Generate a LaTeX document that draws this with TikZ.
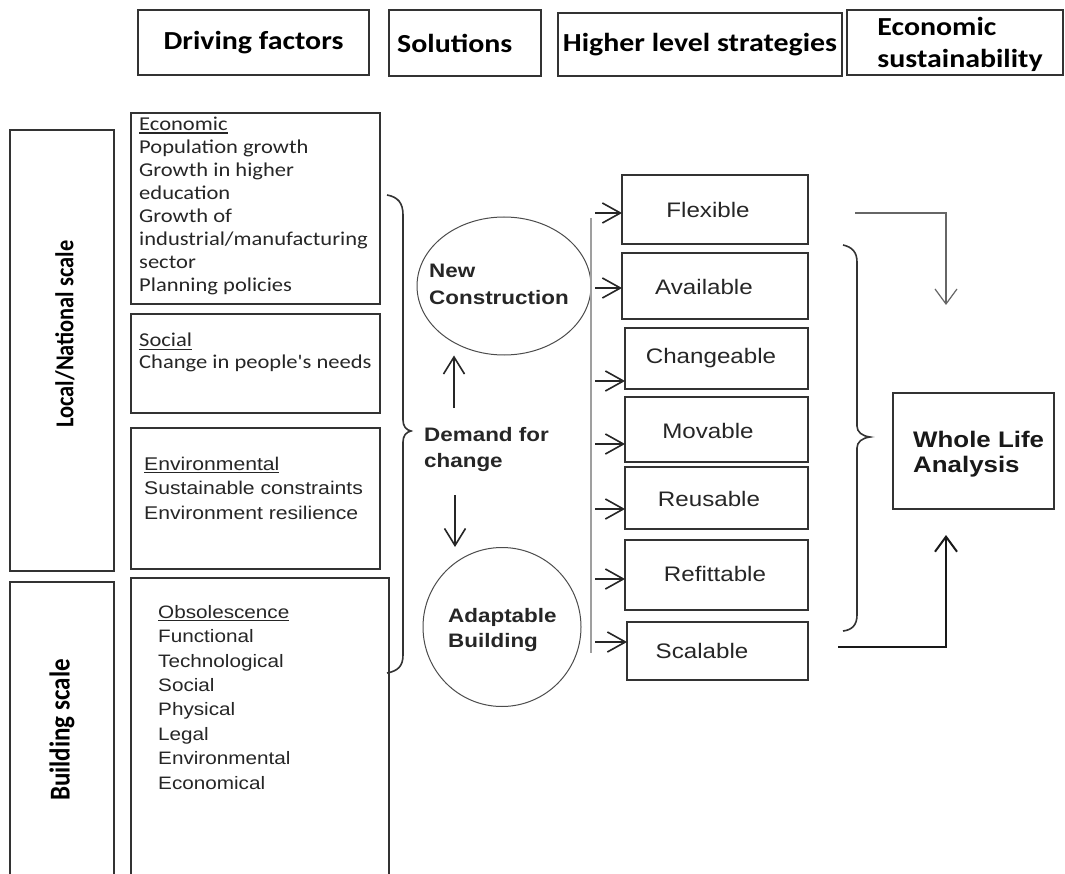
\documentclass[tikz,border=0pt]{standalone}
\usepackage{fontspec}
\newfontfamily\calfont[FakeStretch=1.15]{Carlito}
\newfontfamily\calplain{Carlito}
\newfontfamily\arfont[FakeStretch=1.15]{Liberation Sans}
\usetikzlibrary{arrows.meta,calc,shapes.geometric}
\newcommand\myul[1]{\setbox0\hbox{#1}\rlap{\rule[-2.6pt]{\wd0}{1.1pt}}\box0}
\newcommand\mkbox[6][]{\node[box,minimum width={#5-#3},minimum height={#6-#4},#1] (#2) at ({(#3+#5)/2},{(#4+#6)/2}) {};}
\begin{document}
\begin{tikzpicture}[x=1pt,y=-1pt,
  box/.style={draw=black!80, line width=1.6pt, inner sep=0pt, outer sep=0pt},
  hdrfont/.style={font=\calfont\bfseries\fontsize{26}{32}\selectfont},
  caltxt/.style={anchor=base west, align=left, inner sep=0pt, text=black!85, font=\calfont\fontsize{19.6}{23}\selectfont},
  artxt/.style={anchor=base west, align=left, inner sep=0pt, text=black!85, font=\arfont\fontsize{18.4}{24.4}\selectfont},
  boldtxt/.style={anchor=base west, align=left, inner sep=0pt, text=black!85, font=\arfont\bfseries\fontsize{19.5}{25}\selectfont},
  strat/.style={inner sep=0pt, text=black!85, font=\arfont\fontsize{21}{25}\selectfont},
  vlabel/.style={inner sep=0pt, xscale=1.15, rotate=90},
  oval/.style={draw=black!70, line width=1pt, ellipse, inner sep=0pt},
  sarr/.style={draw=black!85, line width=1.6pt, -{Straight Barb[length=18pt,width=20pt,line width=1.6pt]}},
  varr/.style={draw=black!85, line width=1.6pt, -{Straight Barb[length=17pt,width=21pt,line width=1.6pt]}},
  brace/.style={draw=black!80, line width=1.6pt}
]
\useasboundingbox (0,0) rectangle (1065,874);
\fill[white] (0,0) rectangle (1065,874);
\begin{scope}
\clip (0,0) rectangle (1065,874);

% header boxes
\mkbox{hdf}{138}{10}{369}{75}
\mkbox{hsol}{389}{10}{541}{76}
\mkbox{hhls}{558}{13}{842}{76}
\mkbox{hecs}{847}{10}{1063}{75}
\node[hdrfont] (thdf) at (hdf.center) {Driving factors};
\node[hdrfont, anchor=west, inner sep=0pt] (thsol) at (397,43) {Solutions};
\node[hdrfont] (thhls) at (hhls.center) {Higher level strategies};
\node[hdrfont, align=left, inner sep=0pt] (thecs) at (960,44) {Economic\\sustainability};

% scale boxes
\mkbox{lns}{10}{130}{114}{571}
\mkbox{bsc}{10}{582}{114}{890}
\node[vlabel, font=\calplain\bfseries\fontsize{22.4}{24}\selectfont] (tlns) at (65,334) {Local/National scale};
\node[vlabel, font=\calplain\bfseries\fontsize{25}{27}\selectfont] (tbsc) at (62,730) {Building scale};

% driving factor boxes (text anchored at the baseline of its last line)
\mkbox{eco}{131}{113}{380}{304}
\mkbox{soc}{131}{314}{380}{413}
\mkbox{env}{131}{428}{380}{569}
\mkbox{obs}{131}{578}{389}{890}
\node[caltxt] (teco) at (139,292) {\myul{Economic}\\Population growth\\Growth in higher\\education\\Growth of\\industrial/manufacturing\\sector\\Planning policies};
\node[caltxt, font=\calfont\fontsize{19.6}{22}\selectfont] (tsoc) at (139,369) {\myul{Social}\\Change in people's needs};
\node[artxt, font=\arfont\fontsize{18.4}{24.5}\selectfont] (tenv) at (144,519) {\myul{Environmental}\\Sustainable constraints\\Environment resilience};
\node[artxt, font=\arfont\fontsize{18}{24.4}\selectfont] (tobs) at (158,789) {\myul{Obsolescence}\\Functional\\Technological\\Social\\Physical\\Legal\\Environmental\\Economical};

% brace 1
\draw[brace] (387,195) .. controls (398,197) and (403,203) .. (403,215) -- (403,420)
  .. controls (403,426) and (406,430) .. (411,431)
  .. controls (406,432) and (403,436) .. (403,442) -- (403,655)
  .. controls (403,666) and (398,671) .. (387,673);

% solutions
\node[oval, minimum width=174, minimum height=138] (newc) at (504,286) {};
\node[oval, minimum width=158, minimum height=159] (adapt) at (502,627) {};
\node[boldtxt, font=\arfont\bfseries\fontsize{19.5}{27}\selectfont] (tnewc) at (429,305) {New\\Construction};
\node[boldtxt] (tadapt) at (448,647) {Adaptable\\Building};
\node[boldtxt, font=\arfont\bfseries\fontsize{19.5}{25.5}\selectfont] (tdem) at (424,467) {Demand for\\change};
\coordinate (upst) at (454,408);
\coordinate (dnst) at (455,495);
\draw[varr] (upst) -- (upst |- newc.south);
\draw[varr] (dnst) -- (dnst |- adapt.north);

% vertical line
\coordinate (vtop) at (591,218);
\coordinate (vbot) at (591,653);
\draw[gray!75, line width=2.6pt] (vtop) -- (vbot);

% strategy boxes
\mkbox{flex}{622}{175}{808}{244}
\mkbox{avail}{622}{253}{808}{319}
\mkbox{chg}{625}{328}{808}{389}
\mkbox{mov}{625}{397}{808}{462}
\mkbox{reu}{625}{467}{808}{529}
\mkbox{ref}{625}{540}{808}{610}
\mkbox{scal}{627}{622}{808}{680}
\node[strat] (tflex) at (708,210) {Flexible};
\node[strat] (tavail) at (704,287) {Available};
\node[strat] (tchg) at (711,358) {Changeable};
\node[strat] (tmov) at (708,431) {Movable};
\node[strat] (treu) at (709,499) {Reusable};
\node[strat] (tref) at (715,574) {Refittable};
\node[strat] (tscal) at (702,651) {Scalable};

\draw[sarr] (595,213) -- (flex.west |- 0,213);
\draw[sarr] (595,288) -- (avail.west |- 0,288);
\draw[sarr] (595,381) -- (chg.west |- 0,381);
\draw[sarr] (595,444) -- (mov.west |- 0,444);
\draw[sarr] (595,509) -- (reu.west |- 0,509);
\draw[sarr] (595,579) -- (ref.west |- 0,579);
\draw[sarr] (595,642) -- (scal.west |- 0,642);

% brace 2
\draw[brace] (843,245) .. controls (852,247) and (857,252) .. (857,262) -- (857,426)
  .. controls (857,432) and (862,436) .. (870,437)
  .. controls (862,438) and (857,442) .. (857,448) -- (857,615)
  .. controls (857,625) and (852,630) .. (843,631);

% whole life analysis
\mkbox{wla}{893}{393}{1054}{509}
\node[anchor=base west, align=left, inner sep=0pt, text=black!90, font=\arfont\bfseries\fontsize{22.5}{25}\selectfont] (twla) at (913,472) {Whole Life\\Analysis};
\coordinate (fstart) at (855,213);
\coordinate (fend) at (946,305);
\coordinate (sstart) at (838,647);
\coordinate (send) at (946,535);
\draw[draw=black!60, line width=1.2pt, -{Straight Barb[length=15pt,width=22pt,line width=1.2pt]}] (fstart) -| (fend);
\draw[draw=black!90, line width=2pt, -{Straight Barb[length=15pt,width=22pt,line width=2pt]}] (sstart) -| (send);
\end{scope}
\end{tikzpicture}
\end{document}
